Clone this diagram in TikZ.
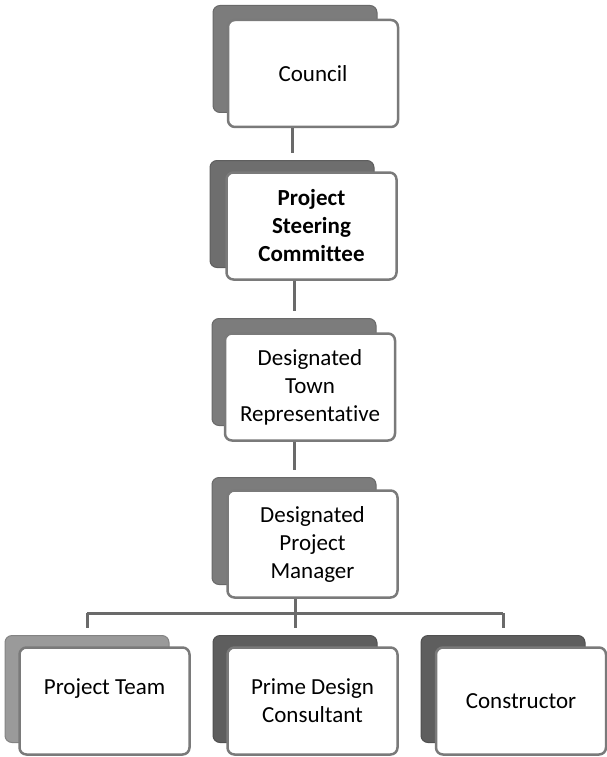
\documentclass[tikz,border=0pt]{standalone}
\usepackage{fontspec}
\setmainfont{Carlito}[Ligatures=NoCommon]
\definecolor{cardline}{HTML}{7A7A7A}
\definecolor{linkgray}{HTML}{6A6A6A}
\definecolor{midgray}{HTML}{7C7C7C}
\definecolor{darkgray}{HTML}{5E5E5E}
\definecolor{lightgray}{HTML}{9A9A9A}
\begin{document}
\begin{tikzpicture}[
        x=1pt, y=-1pt,
        card/.style={draw=cardline, line width=2.5pt, rounded corners=7pt, fill=white,
            minimum width=170pt, minimum height=107pt, align=center,
            font=\fontsize{23}{28}\selectfont},
        backcard/.style={fill=#1, draw=#1!85!black, line width=1pt, rounded corners=7pt,
            minimum width=164pt, minimum height=107pt},
        connector/.style={draw=linkgray, line width=3pt, shorten >=7pt}
    ]
        \useasboundingbox (0,0) rectangle (607,757);
        % chain of command
        \node[backcard=midgray] (councilb) at (295,59) {};
        \node[card] (council) at (313,73.5) {Council};
        \node[backcard=darkgray!90!white] (steerb) at (292,214) {};
        \node[card, font=\fontsize{23}{28}\selectfont\bfseries] (steer) at (311.5,226) {Project\\Steering\\Committee};
        \node[backcard=midgray] (townb) at (294,372) {};
        \node[card] (town) at (310,387) {Designated\\Town\\Representative};
        \node[backcard=midgray] (managerb) at (294,531) {};
        \node[card] (manager) at (312.5,544) {Designated\\Project\\Manager};
        \draw[connector] (council.south -| steerb.north) -- (steerb.north);
        \draw[connector] (steer.south -| townb.north) -- (townb.north);
        \draw[connector] (town.south -| managerb.north) -- (managerb.north);
        % bottom row
        \node[backcard=lightgray] (teamb) at (87,689) {};
        \node[card] (team) at (104.5,701) {Project Team\\ \mbox{}};
        \node[backcard=darkgray] (designb) at (295,689) {};
        \node[card] (design) at (312.5,701) {Prime Design\\Consultant};
        \node[backcard=darkgray] (buildb) at (503,689) {};
        \node[card] (build) at (521,701) {Constructor};
        \coordinate (split) at (295,613);
        \draw[connector, shorten >=0pt] (manager.south -| split) -- (split);
        \draw[connector, shorten >=0pt] (split -| teamb.north) -- (split -| buildb.north);
        \draw[connector] (split -| teamb.north) -- (teamb.north);
        \draw[connector] (split) -- (designb.north);
        \draw[connector] (split -| buildb.north) -- (buildb.north);
    \end{tikzpicture}
\end{document}
